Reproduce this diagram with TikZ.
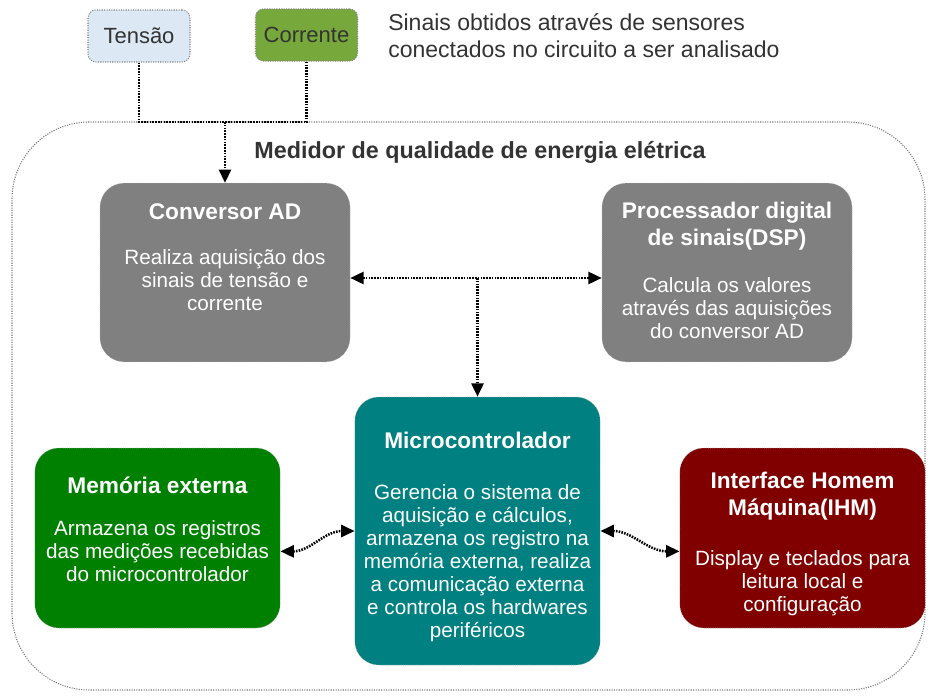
\documentclass[tikz,border=0pt]{standalone}
\usepackage{fontspec}
\setmainfont{Liberation Sans}
\usetikzlibrary{shapes}
\usetikzlibrary{arrows.meta}
\usetikzlibrary{positioning}
\definecolor{azulclaro}{RGB}{220,233,245}
\definecolor{verdeclaro}{RGB}{119,168,60}
\definecolor{cinza}{RGB}{128,128,128}
\definecolor{ciano}{RGB}{0,128,128}
\definecolor{verde}{RGB}{0,128,0}
\definecolor{vinho}{RGB}{128,0,0}
\definecolor{escuro}{RGB}{51,51,51}

\begin{document}
\begin{tikzpicture}[x=0.75pt,y=-0.75pt]
				\tikzstyle{bloco}=[rectangle, rounded corners=18pt, draw=gray!60, densely dotted, inner sep=0pt]
				\tikzstyle{sinal}=[rectangle, rounded corners=6pt, draw=gray, densely dotted, line width=0.8pt, text=escuro, font=\fontsize{16.5}{19}\selectfont, minimum width=76.5pt, minimum height=39pt]
				\tikzstyle{quadro}=[rectangle, rounded corners=58pt, draw=gray!90!black, densely dotted, line width=0.8pt, inner sep=0pt, minimum width=684.75pt, minimum height=426pt]
				\tikzstyle{titulo}=[align=center, text=white, inner sep=0pt, font=\fontsize{17}{20}\bfseries\selectfont]
				\tikzstyle{texto}=[align=center, text=white, inner sep=0pt, font=\fontsize{15.5}{17.25}\selectfont]
				\tikzstyle{liga}=[dash pattern=on 1.2pt off 0.9pt, line width=1.9pt]
				\tikzstyle{seta}=[{Triangle[length=10pt,width=9pt]}-{Triangle[length=10pt,width=9pt]}]
				
				\useasboundingbox (0,0) rectangle (936,700);
				
				% sinais de entrada
				\node[sinal, fill=azulclaro] (tensao) at (139,36) {Tensão};
				\node[sinal, fill=verdeclaro] (corrente) at (306.5,35) {Corrente};
				\node[anchor=west, align=left, inner sep=0pt, text=escuro, font=\fontsize{17.25}{20.25}\selectfont] (obs) at (388,36) {Sinais obtidos através de sensores\\conectados no circuito a ser analisado};
				
				% medidor
				\node[quadro] (medidor) at (468.5,406) {};
				\node[inner sep=0pt, text=escuro, font=\fontsize{17.5}{20}\bfseries\selectfont] (nome) at (480,152) {Medidor de qualidade de energia elétrica};
				
				\node[bloco, fill=cinza, minimum width=187.5pt, minimum height=134pt] (conv) at (225,272.5) {};
				\node[titulo] (convtit) at (225,212) {Conversor AD};
				\node[texto] (convtxt) at (225,280) {Realiza aquisição dos\\sinais de tensão e\\corrente};
				
				\node[bloco, fill=cinza, minimum width=187.5pt, minimum height=134pt] (dsp) at (727,272.5) {};
				\node[titulo] (dsptit) at (727,226) {Processador digital\\de sinais(DSP)};
				\node[texto] (dsptxt) at (727,308) {Calcula os valores\\através das aquisições\\do conversor AD};
				
				\node[bloco, fill=ciano, minimum width=184pt, minimum height=201pt] (micro) at (477.5,531) {};
				\node[titulo] (microtit) at (477.5,440) {Microcontrolador};
				\node[texto] (microtxt) at (477.5,563) {Gerencia o sistema de\\aquisição e cálculos,\\armazena os registro na\\memória externa, realiza\\a comunicação externa\\e controla os hardwares\\periféricos};
				
				\node[bloco, fill=verde, minimum width=184pt, minimum height=135pt] (mem) at (157.5,538) {};
				\node[titulo] (memtit) at (157.5,485) {Memória externa};
				\node[texto] (memtxt) at (157.5,551) {Armazena os registros\\das medições recebidas\\do microcontrolador};
				
				\node[bloco, fill=vinho, minimum width=184pt, minimum height=135pt] (ihm) at (802.5,538) {};
				\node[titulo] (ihmtit) at (802.5,496) {Interface Homem\\Máquina(IHM)};
				\node[texto] (ihmtxt) at (802.5,583) {Display e teclados para\\leitura local e\\configuração};
				
				% ligacoes
				\coordinate (junta) at (225,122);
				\coordinate (centro) at (477.5,278);
				\draw[liga] (tensao.south) |- (junta) -| (corrente.south);
				\draw[liga, -{Triangle[length=10pt,width=9pt]}] (junta) -- (conv.north);
				\draw[liga, seta] (conv.east |- centro) -- (dsp.west |- centro);
				\draw[liga, -{Triangle[length=10pt,width=9pt]}] (centro) -- (micro.north);
				\draw[liga, seta] ([yshift=-10pt]mem.east) to[out=0, in=180] (micro.west);
				\draw[liga, seta] (micro.east) to[out=0, in=180] ([yshift=-10pt]ihm.west);
\end{tikzpicture}
\end{document}
